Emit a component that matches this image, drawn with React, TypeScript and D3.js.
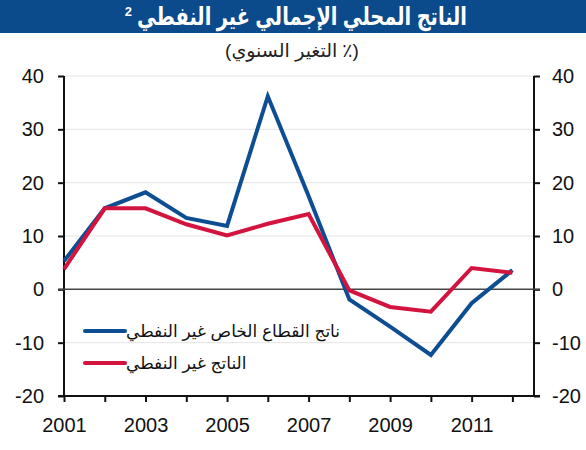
import React, {useRef, useEffect} from 'react'
import * as d3 from 'd3'

// annual change, percent
const years = [2001, 2002, 2003, 2004, 2005, 2006, 2007, 2008, 2009, 2010, 2011, 2012]
const privateNonOil = [5.3, 15.2, 18.2, 13.4, 11.9, 36.2, 17.5, -1.9, -7.0, -12.3, -2.6, 3.6]
const nonOilGdp = [3.8, 15.2, 15.2, 12.2, 10.1, 12.3, 14.1, -0.2, -3.3, -4.2, 4.0, 3.1]
const yTicks = [-20, -10, 0, 10, 20, 30, 40]
const xLabels = [2001, 2003, 2005, 2007, 2009, 2011]

const title = 'الناتج المحلي الإجمالي غير النفطي'
const subtitleWords = 'التغير السنوي'
const seriesNames = ['ناتج القطاع الخاص غير النفطي', 'الناتج غير النفطي']

const BLUE = '#0d4d91'
const RED = '#d2143e'
const FONT = "'Liberation Sans', Arial, 'DejaVu Sans', sans-serif"

function App() {
  const ref: any = useRef<SVGSVGElement>(null)

  useEffect(() => {
    document.body.style.margin = '0'
    const svg = d3.select(ref.current)
    svg.selectAll('*').remove()

    const left = 64
    const right = 534
    const top = 76
    const bottom = 396

    const x = d3.scaleLinear().domain([2001, 2012.53]).range([left, right])
    const y = d3.scaleLinear().domain([-20, 40]).range([bottom, top])

    // title bar
    svg.append('rect').attr('x', 0).attr('y', 0).attr('width', 586).attr('height', 33).attr('fill', '#0b4a8b')
    const titleW = 330
    svg
      .append('text')
      .attr('x', 302)
      .attr('y', 25)
      .attr('text-anchor', 'middle')
      .attr('fill', 'white')
      .attr('font-family', FONT)
      .attr('font-weight', 'bold')
      .attr('font-size', 25)
      .attr('textLength', titleW)
      .attr('lengthAdjust', 'spacingAndGlyphs')
      .text(title)
    svg
      .append('text')
      .attr('x', 302 - titleW / 2 - 5)
      .attr('y', 16)
      .attr('text-anchor', 'end')
      .attr('fill', 'white')
      .attr('font-family', FONT)
      .attr('font-weight', 'bold')
      .attr('font-size', 13)
      .text('2')

    // subtitle, laid out piece by piece so the bracket and percent sign stay put
    const sub = svg.append('g').attr('font-family', FONT).attr('font-size', 19).attr('fill', '#222')
    const pieces = ['(', subtitleWords, '٪', ')']
    const gaps = [0, 5, 0, 0]
    const nodes = pieces.map(p => sub.append('text').attr('y', 57).text(p))
    const widths = nodes.map(n => (n.node() as any).getComputedTextLength())
    let cx = 292 - (d3.sum(widths) + d3.sum(gaps)) / 2
    nodes.forEach((n, i) => {
      n.attr('x', cx)
      cx += widths[i] + gaps[i]
    })

    // gridlines
    svg
      .append('g')
      .selectAll('line')
      .data(yTicks.filter(d => d !== 0 && d !== -20))
      .join('line')
      .attr('x1', left)
      .attr('x2', right)
      .attr('y1', d => y(d))
      .attr('y2', d => y(d))
      .attr('stroke', '#e4e4e4')
      .attr('stroke-width', 1)

    const fmt = (d: any) => String(d)
    // left axis
    const yLeft = svg
      .append('g')
      .attr('transform', `translate(${left},0)`)
      .call(d3.axisLeft(y).tickValues(yTicks).tickSize(6).tickPadding(14).tickFormat(fmt))
    // right axis
    const yRight = svg
      .append('g')
      .attr('transform', `translate(${right},0)`)
      .call(d3.axisRight(y).tickValues(yTicks).tickSize(6).tickPadding(12).tickFormat(fmt))
    // bottom axis
    const xAxis = svg
      .append('g')
      .attr('transform', `translate(0,${bottom})`)
      .call(
        d3
          .axisBottom(x)
          .tickValues(years)
          .tickSize(6)
          .tickPadding(16)
          .tickFormat((d: any) => (xLabels.includes(d) ? String(d) : '')),
      )

    ;[yLeft, yRight, xAxis].forEach(g => {
      g.select('.domain').remove()
      g.selectAll('line').attr('stroke', '#111').attr('stroke-width', 2)
      g.selectAll('text').attr('font-family', FONT).attr('font-size', 20).attr('fill', '#111')
    })

    // axis frame
    svg.append('line').attr('x1', left).attr('x2', left).attr('y1', top).attr('y2', bottom).attr('stroke', '#111').attr('stroke-width', 2)
    svg.append('line').attr('x1', right).attr('x2', right).attr('y1', top).attr('y2', bottom).attr('stroke', '#111').attr('stroke-width', 2)
    svg.append('line').attr('x1', left - 6).attr('x2', right + 6).attr('y1', bottom).attr('y2', bottom).attr('stroke', '#111').attr('stroke-width', 2)

    // zero line
    svg
      .append('line')
      .attr('x1', left - 6)
      .attr('x2', right + 6)
      .attr('y1', y(0))
      .attr('y2', y(0))
      .attr('stroke', '#444')
      .attr('stroke-width', 1.5)

    const line = d3
      .line<number>()
      .x((_d, i) => x(years[i]))
      .y(d => y(d))

    const series = [
      {values: privateNonOil, color: BLUE},
      {values: nonOilGdp, color: RED},
    ]
    series.forEach(s => {
      svg
        .append('path')
        .datum(s.values)
        .attr('d', line)
        .attr('fill', 'none')
        .attr('stroke', s.color)
        .attr('stroke-width', 4)
        .attr('stroke-linejoin', 'miter')
    })

    // legend
    const legend = svg.append('g')
    series.forEach((s, i) => {
      const ly = 331 + i * 32
      legend
        .append('line')
        .attr('x1', 85)
        .attr('x2', 125)
        .attr('y1', ly)
        .attr('y2', ly)
        .attr('stroke', s.color)
        .attr('stroke-width', 4)
        .attr('stroke-linecap', 'round')
      legend
        .append('text')
        .attr('x', 126)
        .attr('y', ly + 6)
        .attr('text-anchor', 'start')
        .attr('fill', '#111')
        .attr('font-family', FONT)
        .attr('font-size', 17)
        .text(seriesNames[i])
    })
  }, [])

  return (
    <svg ref={ref} width={586} height={450} style={{display: 'block', background: 'white'}} />
  )
}

export default App
